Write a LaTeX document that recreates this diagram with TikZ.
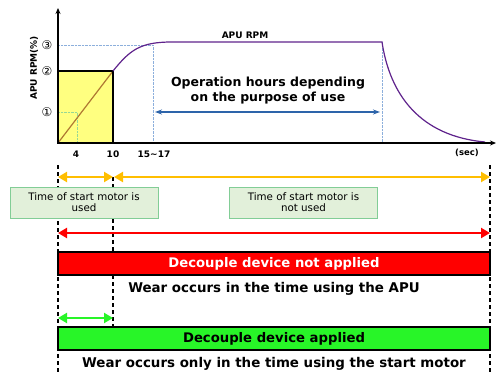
\documentclass[tikz,border=0pt]{standalone}
\usepackage{fontspec}
\setmainfont{DejaVu Sans}
\newfontfamily\circfont{DejaVu Sans}
\usetikzlibrary{arrows.meta,positioning}
\definecolor{lemon}{RGB}{255,255,128}
\definecolor{rampbrown}{RGB}{175,120,50}
\definecolor{rpmpurple}{RGB}{95,35,140}
\definecolor{opblue}{RGB}{45,100,170}
\definecolor{guideblue}{RGB}{140,175,220}
\definecolor{guidegreen}{RGB}{150,215,150}
\definecolor{motororange}{RGB}{255,190,0}
\definecolor{notefill}{RGB}{226,240,218}
\definecolor{noteline}{RGB}{130,205,150}
\definecolor{brightgreen}{RGB}{40,245,40}
\tikzset{
axis/.style={-{Stealth[length=6pt,width=5pt]},line width=1.2pt},
guide/.style={densely dotted,thin,color=#1},
marker/.style={black,line width=1.1pt,dash pattern=on 4pt off 3pt},
span/.style={{Triangle[length=9pt,width=10pt]}-{Triangle[length=9pt,width=10pt]},line width=2.6pt,color=#1},
tick label/.style={font=\bfseries\fontsize{9}{10}\selectfont},
notebox/.style={draw=noteline,fill=notefill,line width=1pt,align=center,minimum width=148,minimum height=31,inner sep=1pt,font=\fontsize{10.3}{11}\selectfont},
bar/.style={draw=black,line width=1.4pt,fill=#1,minimum width=432,minimum height=23,inner sep=0pt,font=\bfseries\fontsize{13.2}{15}\selectfont},
caption/.style={font=\bfseries\fontsize{13.4}{15}\selectfont,align=center},
}
\begin{document}
\begin{tikzpicture}[x=1pt,y=-1pt]
    \useasboundingbox (0,0) rectangle (497,374);
    % chart
    \coordinate (origin) at (58,143);
    \coordinate (motorEnd) at (113,71);
    \coordinate (runStart) at (153,45);
    \coordinate (runEnd) at (382,42);
    \fill[lemon] (origin) rectangle (motorEnd);
    \draw[guide=guidegreen] (58,112) -| (77,143);
    \draw[guide=guideblue] (58,45) -| (153,143);
    \draw[guide=guideblue] (runEnd) -- (382,143);
    \draw[rampbrown,line width=1.2pt] (origin) -- (motorEnd);
    \draw[line width=1.2pt] (origin) rectangle (motorEnd);
    \draw[rpmpurple,line width=1.2pt] (motorEnd) .. controls (130,50) and (140,42) .. (172,42)
        -- (runEnd) .. controls (390,95) and (420,136) .. (485,142);
    \draw[axis] (origin) -- (58,8);
    \draw[axis] (origin) -- (496,143);
    \draw[opblue,line width=1.6pt,{Stealth[length=7pt,width=5pt]}-{Stealth[length=7pt,width=5pt]}] (155,112) -- (380,112);

    \node[tick label,rotate=90] (yLabel) at (34,68) {APU RPM(\%)};
    \node (lvlThree) at (47,45) {\circfont\fontsize{12}{12}\selectfont ③};
    \node (lvlTwo) at (47,71) {\circfont\fontsize{12}{12}\selectfont ②};
    \node (lvlOne) at (47,112) {\circfont\fontsize{12}{12}\selectfont ①};
    \node[tick label] (tickFour) at (76,154) {4};
    \node[tick label] (tickTen) at (113,154) {10};
    \node[tick label] (tickRun) at (154,154) {15\textasciitilde17};
    \node[font=\bfseries\fontsize{8.5}{9}\selectfont] (secLabel) at (467,153) {(sec)};
    \node[tick label] (rpmLabel) at (245,35) {APU RPM};
    \node[caption,font=\bfseries\fontsize{12.5}{15}\selectfont] (opText) at (268,91) {Operation hours depending\\on the purpose of use};

    % time markers
    \draw[marker] (58,165) -- (58,374);
    \draw[marker] (113,177) -- (113,327);
    \draw[marker] (490,165) -- (490,374);

    \coordinate (startA) at (58,177);
    \coordinate (startB) at (113,177);
    \coordinate (startC) at (490,177);
    \draw[span=motororange] (startA) -- (startB);
    \draw[span=motororange] ([xshift=1]startB) -- (startC);
    \node[notebox] (usedBox) at (84,202.5) {Time of start motor is\\used};
    \node[notebox] (unusedBox) at (303.5,202.5) {Time of start motor is\\not used};

    \coordinate (apuA) at (58,233);
    \coordinate (apuB) at (490,233);
    \draw[span=red] (apuA) -- (apuB);
    \node[bar=red,text=white] (noDecouple) at (274,263.5) {Decouple device not applied};
    \node[caption] (apuWear) at (274,289) {Wear occurs in the time using the APU};

    \coordinate (motA) at (58,318);
    \coordinate (motB) at (113,318);
    \draw[span=brightgreen,line width=2.2pt] (motA) -- (motB);
    \node[bar=brightgreen] (withDecouple) at (274,338.5) {Decouple device applied};
    \node[caption] (motWear) at (274,364) {Wear occurs only in the time using the start motor};
\end{tikzpicture}
\end{document}
